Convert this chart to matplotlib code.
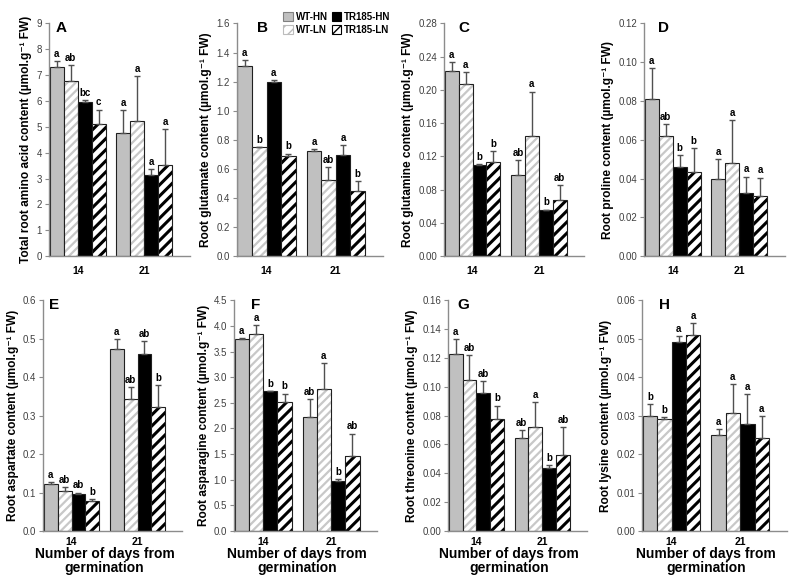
import numpy as np
import matplotlib.pyplot as plt
from matplotlib.patches import Patch

plt.rcParams['font.family'] = ['Liberation Sans', 'DejaVu Sans']

days = ['14', '21']
series = ['WT-HN', 'WT-LN', 'TR185-HN', 'TR185-LN']
panel_letters = ['A', 'B', 'C', 'D', 'E', 'F', 'G', 'H']

unit = ' (\u00b5mol.g\u207b\u00b9 FW)'
ylabels = [
    'Total root amino acid content' + unit,
    'Root glutamate content' + unit,
    'Root glutamine content' + unit,
    'Root proline content' + unit,
    'Root aspartate content' + unit,
    'Root asparagine content' + unit,
    'Root threonine content' + unit,
    'Root lysine content' + unit,
]

# means: [panel][day][series]
means = [
    [[7.30, 6.78, 5.98, 5.12], [4.78, 5.23, 3.15, 3.52]],
    [[1.31, 0.75, 1.20, 0.685], [0.72, 0.52, 0.695, 0.445]],
    [[0.223, 0.207, 0.110, 0.113], [0.097, 0.145, 0.055, 0.068]],
    [[0.081, 0.062, 0.046, 0.0435], [0.040, 0.048, 0.0325, 0.031]],
    [[0.123, 0.105, 0.096, 0.078], [0.472, 0.344, 0.460, 0.322]],
    [[3.74, 3.84, 2.73, 2.52], [2.23, 2.76, 0.98, 1.47]],
    [[0.1225, 0.105, 0.0955, 0.0775], [0.0645, 0.072, 0.044, 0.053]],
    [[0.0298, 0.0292, 0.0492, 0.0510], [0.0250, 0.0308, 0.0278, 0.0241]],
]
# top of the error bars
err_tops = [
    [[7.55, 7.38, 6.02, 5.67], [5.65, 6.97, 3.37, 4.90]],
    [[1.35, 0.752, 1.21, 0.705], [0.735, 0.61, 0.765, 0.515]],
    [[0.234, 0.221, 0.111, 0.126], [0.116, 0.198, 0.056, 0.085]],
    [[0.097, 0.068, 0.052, 0.0555], [0.050, 0.070, 0.041, 0.0405]],
    [[0.128, 0.114, 0.100, 0.082], [0.500, 0.375, 0.495, 0.380]],
    [[3.77, 4.02, 2.735, 2.68], [2.58, 3.28, 1.02, 1.90]],
    [[0.133, 0.122, 0.104, 0.087], [0.070, 0.0895, 0.046, 0.072]],
    [[0.033, 0.0297, 0.0506, 0.0541], [0.0265, 0.0383, 0.0355, 0.0299]],
]
letters = [
    [['a', 'ab', 'bc', 'c'], ['a', 'a', 'a', 'a']],
    [['a', 'b', 'a', 'b'], ['a', 'ab', 'a', 'b']],
    [['a', 'a', 'b', 'b'], ['ab', 'a', 'b', 'ab']],
    [['a', 'ab', 'b', 'b'], ['a', 'a', 'a', 'a']],
    [['a', 'ab', 'ab', 'b'], ['a', 'ab', 'ab', 'b']],
    [['a', 'a', 'b', 'b'], ['ab', 'a', 'b', 'ab']],
    [['a', 'ab', 'ab', 'b'], ['ab', 'a', 'b', 'ab']],
    [['b', 'b', 'a', 'a'], ['a', 'a', 'a', 'a']],
]
ymax = [9, 1.6, 0.28, 0.12, 0.6, 4.5, 0.16, 0.06]
ystep = [1, 0.2, 0.04, 0.02, 0.1, 0.5, 0.02, 0.01]
ydec = [0, 1, 2, 2, 1, 1, 2, 2]

# axes boxes in figure fractions
boxes = [
    [0.0613, 0.5563, 0.176, 0.403],
    [0.296, 0.5563, 0.1825, 0.403],
    [0.555, 0.5563, 0.175, 0.403],
    [0.805, 0.5563, 0.176, 0.403],
    [0.054, 0.0797, 0.174, 0.400],
    [0.2925, 0.0797, 0.179, 0.400],
    [0.56, 0.0797, 0.174, 0.400],
    [0.8025, 0.0797, 0.181, 0.400],
]
letter_x = [0.05, 0.14, 0.10, 0.10, 0.04, 0.12, 0.07, 0.12]

# face, hatch, hatch colour, hatch width
styles = [
    ('#c0c0c0', None, None, 0),
    ('white', '////', '#c8c8c8', 1.6),
    ('black', None, None, 0),
    ('white', '///', 'black', 2.2),
]

w = 0.21
offsets = (np.arange(4) - 1.5) * w
axis_grey = '#8c8c8c'

fig = plt.figure(figsize=(8, 5.77), dpi=100)

for p in range(8):
    ax = fig.add_axes(boxes[p])
    m = np.array(means[p])
    e = np.array(err_tops[p])
    xg = np.arange(len(days))
    for s in range(4):
        face, hatch, hcol, hlw = styles[s]
        x = xg + offsets[s]
        if hatch:
            bars = ax.bar(x, m[:, s], w, color=face, edgecolor=hcol,
                          hatch=hatch, linewidth=0, zorder=2)
            for b in bars:
                b.set_hatch_linewidth(hlw)
            ax.bar(x, m[:, s], w, fill=False, edgecolor='#202020',
                   linewidth=0.8, zorder=3)
        else:
            ax.bar(x, m[:, s], w, color=face, edgecolor='#202020',
                   linewidth=0.8, zorder=2)
        ax.errorbar(x, m[:, s], yerr=[np.zeros(2), e[:, s] - m[:, s]],
                    fmt='none', ecolor='#505050', elinewidth=1,
                    capsize=2.5, capthick=1, zorder=4)
        for i in range(2):
            ax.annotate(letters[p][i][s], (x[i], e[i, s]),
                        xytext=(0, 1.5), textcoords='offset points',
                        ha='center', va='bottom', fontsize=7,
                        fontweight='bold')

    ax.set_xlim(-2 * w - 0.01, 1.68)
    ax.set_ylim(0, ymax[p])
    ticks = np.arange(0, ymax[p] + ystep[p] / 2, ystep[p])
    ax.set_yticks(ticks)
    ax.set_yticklabels([f'{t:.{ydec[p]}f}' for t in ticks],
                       fontsize=7, color='#404040')
    ax.set_xticks(xg)
    ax.set_xticklabels(days, fontsize=7.5, fontweight='bold')
    ax.tick_params(axis='x', length=0, pad=7 if p < 4 else 4)
    ax.tick_params(axis='y', length=3, color=axis_grey, pad=2)
    for side in ['top', 'right']:
        ax.spines[side].set_visible(False)
    for side in ['left', 'bottom']:
        ax.spines[side].set_color(axis_grey)
        ax.spines[side].set_linewidth(1)
    ax.set_ylabel(ylabels[p], fontsize=8.6, fontweight='bold', labelpad=3)
    ax.text(letter_x[p], 1.01, panel_letters[p], transform=ax.transAxes,
            ha='left', va='top', fontsize=11, fontweight='bold')
    if p >= 4:
        ax.set_xlabel('Number of days from\ngermination', fontsize=10,
                      fontweight='bold', labelpad=0, linespacing=1.05)
        ax.xaxis.set_label_coords(0.44, -0.068, transform=ax.transAxes)
        ax.xaxis.label.set_va('top')

handles = [
    Patch(facecolor='#c0c0c0', edgecolor='#808080', linewidth=0.8),
    Patch(facecolor='white', edgecolor='#bcbcbc', hatch='///', linewidth=0.8),
    Patch(facecolor='black', edgecolor='black', linewidth=0.8),
    Patch(facecolor='white', edgecolor='black', hatch='//', linewidth=0.8),
]
fig.legend(handles, series, loc='upper left', bbox_to_anchor=(0.343, 0.995),
           ncol=2, frameon=False, handlelength=1.0, handleheight=1.0,
           handletextpad=0.3, columnspacing=0.4, labelspacing=0.35,
           prop={'size': 7, 'weight': 'bold'})

fig.savefig('out.png', dpi=100)
